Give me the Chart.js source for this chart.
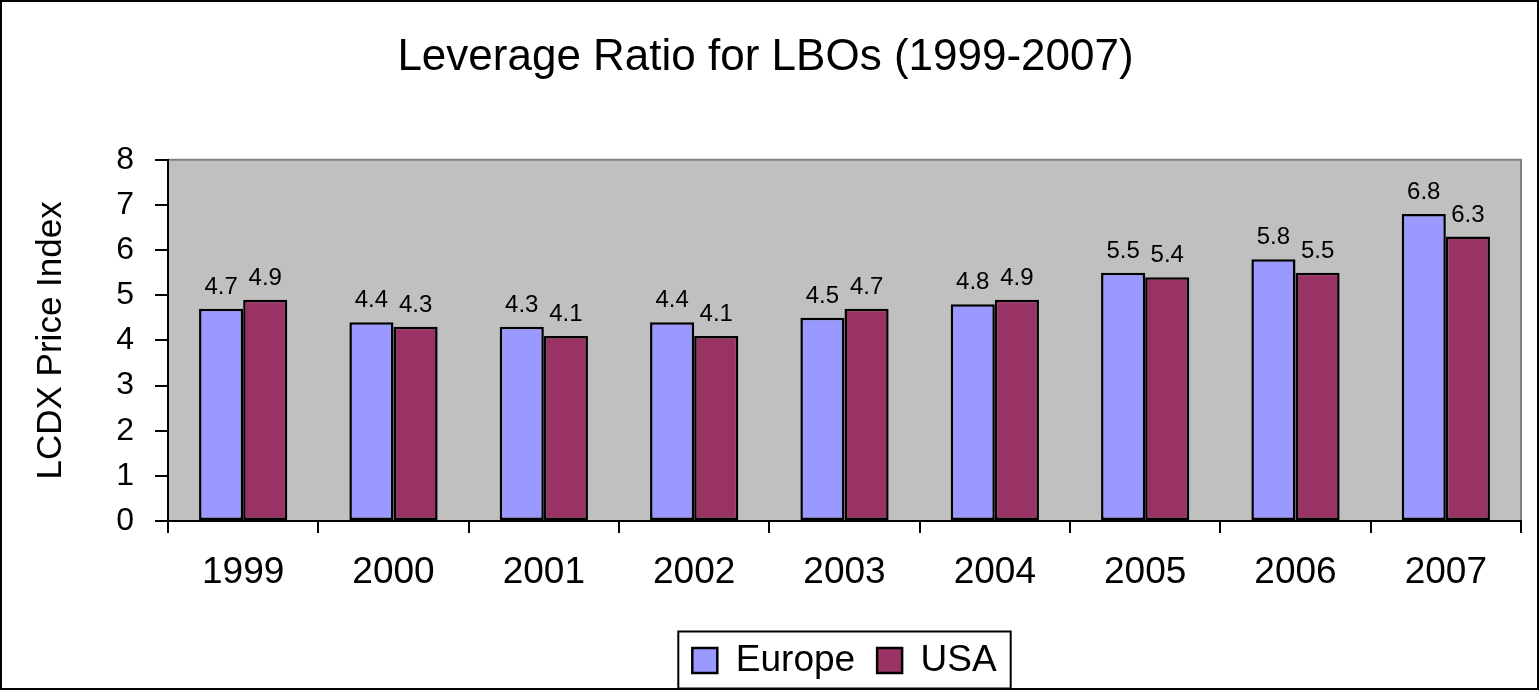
<!DOCTYPE html>
<html>
<head>
<meta charset="utf-8">
<title>Leverage Ratio for LBOs (1999-2007)</title>
<script src="https://cdn.jsdelivr.net/npm/chart.js@4/dist/chart.umd.min.js"></script>
<style>
    body { margin: 0; background: #fff; }
    #chart { display: block; }
</style>
</head>
<body>
<canvas id="chart" width="1540" height="691"></canvas>
<script>
var years = ["1999", "2000", "2001", "2002", "2003", "2004", "2005", "2006", "2007"];
var europe = [4.7, 4.4, 4.3, 4.4, 4.5, 4.8, 5.5, 5.8, 6.8];
var usa = [4.9, 4.3, 4.1, 4.1, 4.7, 4.9, 5.4, 5.5, 6.3];
var yTicks = [0, 1, 2, 3, 4, 5, 6, 7, 8];

var FONT = "'Liberation Sans', Arial, sans-serif";

// white page, grey plot area and the frame round the whole picture
var framePlugin = {
    id: "frame",
    beforeDraw: function (chart) {
        var ctx = chart.ctx;
        var a = chart.chartArea;
        ctx.save();
        ctx.fillStyle = "#fff";
        ctx.fillRect(0, 0, chart.width, chart.height);
        ctx.fillStyle = "#C0C0C0";
        ctx.fillRect(a.left, a.top, a.right - a.left, a.bottom - a.top);
        ctx.strokeStyle = "#808080";
        ctx.lineWidth = 2;
        ctx.beginPath();
        ctx.moveTo(a.left, a.top);
        ctx.lineTo(a.right, a.top);
        ctx.lineTo(a.right, a.bottom);
        ctx.stroke();
        ctx.restore();
    },
    afterDraw: function (chart) {
        var ctx = chart.ctx;
        ctx.save();
        ctx.strokeStyle = "#000";
        ctx.lineWidth = 2;
        ctx.strokeRect(1, 1, chart.width - 3, chart.height - 3);
        // box round the legend
        var boxes = chart.legend.legendHitBoxes;
        if (boxes && boxes.length) {
            var left = boxes[0].left;
            var right = boxes[boxes.length - 1].left + boxes[boxes.length - 1].width;
            var mid = boxes[0].top + boxes[0].height / 2;
            ctx.strokeRect(left - 14, mid - 29, right - left + 28, 57);
        }
        ctx.restore();
    }
};

// value labels above the bars
var valueLabels = {
    id: "valueLabels",
    afterDatasetsDraw: function (chart) {
        var ctx = chart.ctx;
        ctx.save();
        ctx.fillStyle = "#000";
        ctx.font = "24px " + FONT;
        ctx.textAlign = "center";
        ctx.textBaseline = "alphabetic";
        chart.data.datasets.forEach(function (ds, i) {
            chart.getDatasetMeta(i).data.forEach(function (bar, j) {
                ctx.fillText(ds.data[j].toFixed(1), bar.x, bar.y - 15);
            });
        });
        ctx.restore();
    }
};

var ctx = document.getElementById("chart");
var chart = new Chart(ctx, {
    type: "bar",
    data: {
        labels: years,
        datasets: [{
            label: "Europe",
            data: europe,
            backgroundColor: "#9999FF",
            borderColor: "#000",
            borderWidth: 2.5,
            borderSkipped: false
        }, {
            label: "USA",
            data: usa,
            backgroundColor: "#993366",
            borderColor: "#000",
            borderWidth: 2.5,
            borderSkipped: false
        }]
    },
    options: {
        responsive: false,
        animation: false,
        devicePixelRatio: 1,
        layout: {
            padding: { left: 10, right: 19, top: 0, bottom: 2 }
        },
        datasets: {
            bar: {
                categoryPercentage: 0.587,
                barPercentage: 1
            }
        },
        scales: {
            x: {
                grid: {
                    offset: true,
                    drawOnChartArea: false,
                    color: "#000",
                    lineWidth: 2,
                    tickLength: 12
                },
                border: { color: "#000", width: 2 },
                ticks: {
                    color: "#000",
                    padding: 18,
                    font: { family: FONT, size: 37 }
                },
                afterFit: function (scale) {
                    scale.height = 99;
                }
            },
            y: {
                min: 0,
                max: 8,
                afterBuildTicks: function (scale) {
                    scale.ticks = yTicks.map(function (v) { return { value: v }; });
                },
                grid: {
                    drawOnChartArea: false,
                    color: "#000",
                    lineWidth: 2,
                    tickLength: 13
                },
                border: { color: "#000", width: 2 },
                ticks: {
                    color: "#000",
                    padding: 21,
                    font: { family: FONT, size: 32 }
                },
                title: {
                    display: true,
                    text: "LCDX Price Index",
                    color: "#000",
                    padding: { top: 20, bottom: 0 },
                    font: { family: FONT, size: 35 }
                },
                afterFit: function (scale) {
                    scale.width = 158;
                }
            }
        },
        plugins: {
            title: {
                display: true,
                text: "Leverage Ratio for LBOs (1999-2007)",
                color: "#000",
                padding: { top: 31, bottom: 76 },
                font: { family: FONT, size: 44, weight: "normal" }
            },
            legend: {
                position: "bottom",
                fullSize: false,
                labels: {
                    color: "#000",
                    boxWidth: 25,
                    boxHeight: 25,
                    padding: 22,
                    font: { family: FONT, size: 37 }
                }
            },
            tooltip: { enabled: false }
        }
    },
    plugins: [framePlugin, valueLabels]
});
</script>
</body>
</html>
